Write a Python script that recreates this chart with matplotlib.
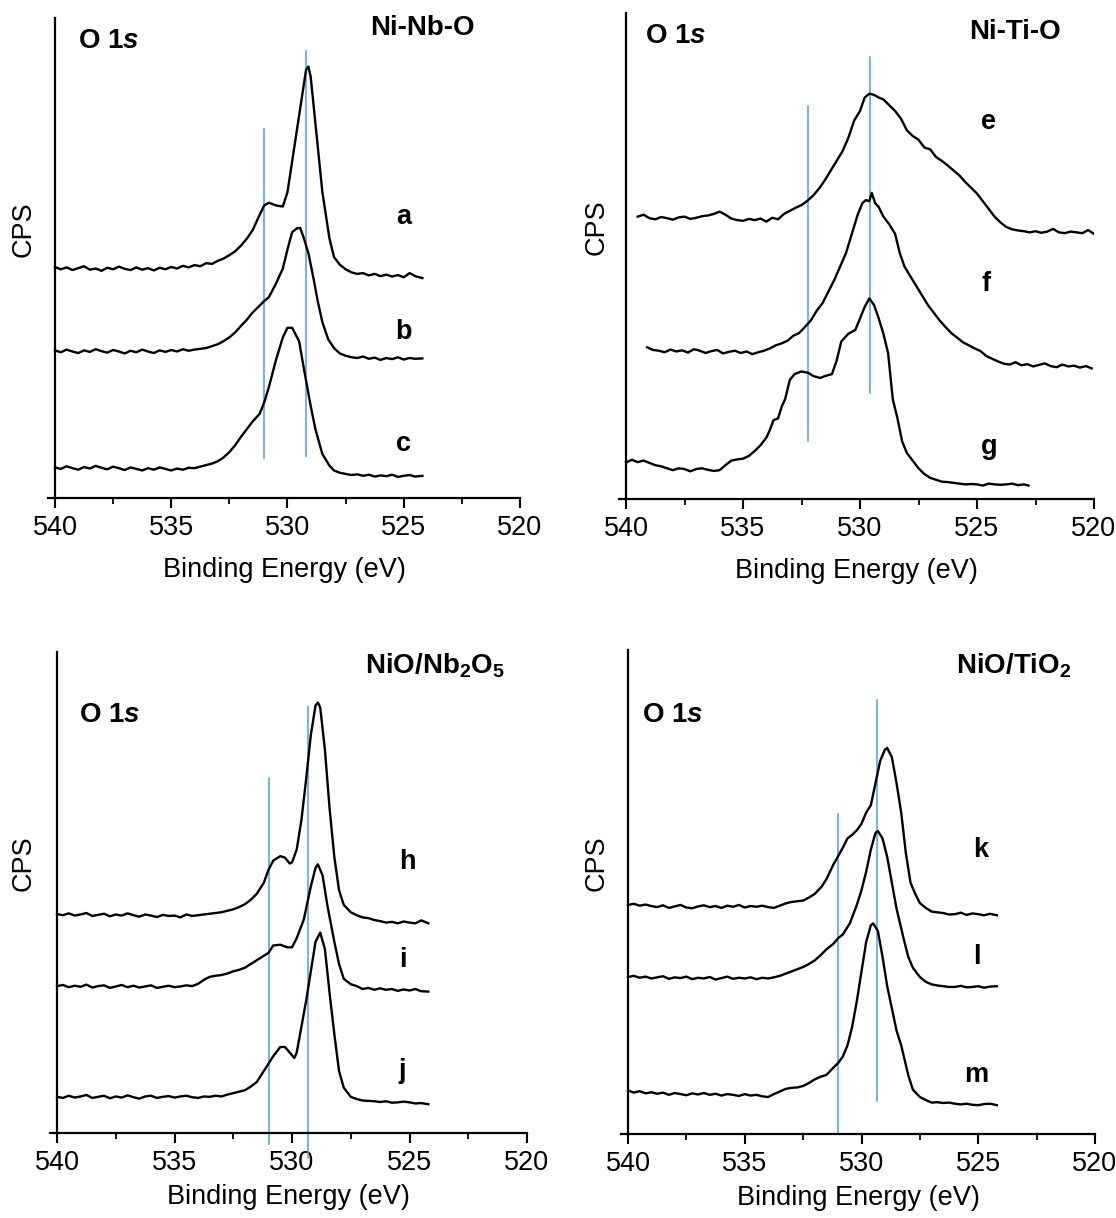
import matplotlib
matplotlib.use("Agg")
import matplotlib.pyplot as plt
from matplotlib.ticker import MultipleLocator

plt.rcParams['font.family'] = ['Liberation Sans', 'DejaVu Sans']
plt.rcParams['mathtext.fontset'] = 'custom'
plt.rcParams['mathtext.rm'] = 'Liberation Sans'
plt.rcParams['mathtext.bf'] = 'Liberation Sans:bold'
plt.rcParams['mathtext.it'] = 'Liberation Sans:italic'
plt.rcParams['mathtext.bfit'] = 'Liberation Sans:bold:italic'

# O 1s spectra: binding energy (eV) vs counts (arb. units)
# common energy steps for the flat low-BE / high-BE stretches
be_lo = [540, 539.75, 539.5, 539.25, 539, 538.75, 538.5, 538.25, 538, 537.75, 537.5, 537.25, 537,
         536.75, 536.5, 536.25, 536, 535.75, 535.5, 535.25, 535, 534.75, 534.5, 534.25, 534]
be_hi = [527.5, 527.25, 527, 526.75, 526.5, 526.25, 526, 525.75, 525.5, 525.25, 525, 524.75, 524.5, 524.2]

# --- Ni-Nb-O ---
be_a = be_lo + [533.75, 533.5, 533.25, 533, 532.75, 532.5, 532.25, 532, 531.75, 531.5, 531.2, 531, 530.8,
                530.5, 530.2, 530, 529.8, 529.5, 529.2, 529.1, 529, 528.8, 528.5, 528.2, 528, 527.75] + be_hi
cps_a = [604, 598, 603, 596, 601, 606, 597, 600, 594, 602, 598, 605, 599, 596, 603, 597, 601, 595, 602, 598,
         604, 600, 607, 603, 609,
         606, 614, 612, 620, 626, 635, 645, 660, 678, 700, 740, 765, 772, 765, 762, 800, 880, 1000, 1120,
         1128, 1100, 980, 800, 680, 630, 610,
         598, 590, 586, 588, 582, 586, 580, 584, 579, 583, 577, 588, 580, 575]
be_b = be_lo + [533.75, 533.5, 533.25, 533, 532.75, 532.5, 532.25, 532, 531.75, 531.5, 531.25, 531, 530.8,
                530.5, 530.2, 530, 529.8, 529.6, 529.45, 529.3, 529.1, 528.9, 528.7, 528.5, 528.25, 528,
                527.75] + be_hi
cps_b = [386, 381, 388, 383, 379, 386, 382, 389, 384, 380, 387, 383, 378, 385, 381, 388, 383, 379, 386, 382,
         387, 383, 389, 385, 388,
         390, 392, 397, 402, 410, 420, 433, 450, 466, 485, 500, 515, 525, 560, 600, 650, 695, 705, 706, 680,
         640, 580, 515, 460, 415, 392, 378,
         372, 368, 366, 370, 364, 367, 361, 366, 363, 368, 362, 366, 364, 365]
be_c = be_lo + [533.75, 533.5, 533.25, 533, 532.75, 532.5, 532.25, 532, 531.75, 531.5, 531.2, 531, 530.8,
                530.5, 530.2, 530, 529.8, 529.5, 529.3, 529, 528.8, 528.5, 528.2, 528, 527.75] + be_hi
cps_c = [80, 76, 83, 78, 74, 81, 77, 84, 79, 75, 82, 78, 73, 80, 76, 72, 78, 74, 80, 76, 72, 77, 74, 79, 78,
         82, 86, 90, 96, 106, 120, 138, 160, 180, 200, 220, 250, 290, 360, 420, 445, 445, 410, 340, 240,
         180, 115, 85, 72, 66,
         63, 60, 62, 58, 61, 56, 59, 57, 61, 55, 58, 60, 56, 58]

# --- Ni-Ti-O ---
be_e = [539.5, 539.25, 539, 538.75, 538.5, 538.25, 538, 537.75, 537.5, 537.25, 537, 536.75, 536.5, 536.25,
        536, 535.75, 535.5, 535.25, 535, 534.75, 534.5, 534.25, 534,
        533.75, 533.5, 533.25, 533, 532.75, 532.5, 532.25, 532, 531.75, 531.5, 531.25, 531, 530.75, 530.5,
        530.25, 530.1, 530, 529.8, 529.6, 529.4, 529.2, 529, 528.75, 528.5, 528.25, 528, 527.75, 527.5,
        527.25, 527, 526.75, 526.5, 526.25, 526, 525.75, 525.5, 525.25, 525, 524.75, 524.5, 524.25, 524,
        523.75, 523.5, 523.25, 523,
        522.75, 522.5, 522.25, 522, 521.75, 521.5, 521.25, 521, 520.75, 520.5, 520.25, 520]
cps_e = [735, 740, 731, 728, 734, 731, 727, 733, 735, 729, 732, 736, 738, 742, 748, 740, 730, 726, 724, 729,
         726, 730, 722,
         732, 728, 742, 750, 758, 765, 776, 790, 808, 830, 855, 880, 905, 940, 985, 1000, 1010, 1045, 1055,
         1052, 1045, 1040, 1025, 1010, 990, 960, 945, 935, 915, 910, 890, 880, 868, 855, 842, 825, 810, 795,
         775, 755, 735, 720, 708, 702, 699, 697,
         694, 697, 693, 696, 703, 694, 692, 696, 694, 692, 700, 690]
be_f = [539.1, 538.85, 538.6, 538.35, 538.1, 537.85, 537.6, 537.35, 537.1, 536.85, 536.6, 536.35, 536.1,
        535.85, 535.6, 535.35, 535.1, 534.85, 534.6, 534.35, 534.1,
        533.85, 533.6, 533.35, 533.1, 532.85, 532.6, 532.35, 532.1, 531.85, 531.6, 531.35, 531.1, 530.85,
        530.6, 530.35, 530.1, 529.9, 529.75, 529.6, 529.5, 529.35, 529.2, 529, 528.75, 528.5, 528.3, 528.1,
        527.85, 527.6, 527.35, 527.1, 526.85, 526.6, 526.35, 526.1, 525.85, 525.6, 525.35, 525.1, 524.85,
        524.6, 524.35, 524.1,
        523.85, 523.6, 523.35, 523.1, 522.85, 522.6, 522.35, 522.1, 521.85, 521.6, 521.35, 521.1, 520.85,
        520.6, 520.35, 520.1]
cps_f = [395, 388, 386, 382, 389, 384, 387, 381, 390, 386, 380, 385, 388, 379, 383, 386, 380, 384, 377, 382,
         386,
         392, 400, 405, 412, 425, 432, 448, 465, 490, 510, 540, 570, 605, 640, 690, 740, 770, 778, 775, 797,
         770, 760, 735, 715, 690, 640, 605, 580, 555, 530, 505, 485, 465, 448, 432, 420, 408, 400, 392, 385,
         372, 365, 358,
         352, 350, 356, 348, 351, 345, 349, 353, 346, 343, 350, 345, 347, 342, 346, 340]
be_g = be_lo + [533.85, 533.7, 533.5, 533.35, 533.2, 533, 532.8, 532.5, 532.2, 532, 531.7, 531.5, 531.2,
                531, 530.8, 530.5, 530.2, 530, 529.8, 529.6, 529.4, 529.2, 529, 528.8, 528.6, 528.4, 528.2,
                528, 527.75, 527.5, 527.25, 527, 526.75, 526.5, 526.25, 526, 525.75, 525.5, 525.25, 525,
                524.75, 524.5, 524.25, 524, 523.75, 523.5, 523.25, 523, 522.8]
cps_g = [95, 102, 96, 100, 94, 88, 85, 80, 75, 80, 78, 72, 78, 80, 76, 73, 75, 88, 100, 103, 105, 112, 125,
         140, 160,
         180, 205, 210, 240, 260, 310, 325, 332, 328, 320, 315, 320, 325, 360, 410, 430, 440, 470, 500, 522,
         505, 470, 430, 380, 260, 210, 150, 120, 100, 80, 65, 55, 50, 45, 44, 42, 40, 38, 39, 38, 35, 40,
         38, 37, 38, 40, 36, 38, 35]

# --- NiO/Nb2O5 ---
be_h = be_lo + [533.75, 533.5, 533.25, 533, 532.75, 532.5, 532.25, 532, 531.75, 531.5, 531.2, 531, 530.8,
                530.5, 530.3, 530.1, 530, 529.8, 529.6, 529.4, 529.2, 529, 528.9, 528.8, 528.6, 528.4, 528.2,
                528, 527.8] + be_hi
cps_h = [593, 590, 595, 589, 592, 596, 588, 591, 594, 587, 592, 589, 595, 590, 586, 592, 589, 585, 591, 588,
         589, 584, 592, 588, 590,
         592, 594, 596, 598, 602, 606, 612, 620, 632, 648, 678, 713, 738, 750, 746, 730, 733, 768, 848, 958,
         1078, 1158, 1166, 1153, 1038, 878, 748, 658, 618,
         598, 590, 584, 582, 577, 574, 570, 572, 568, 573, 570, 568, 576, 568]
be_i = be_lo + [533.75, 533.5, 533.25, 533, 532.75, 532.5, 532.25, 532, 531.75, 531.5, 531.25, 531, 530.8,
                530.5, 530.2, 530, 529.8, 529.5, 529.2, 529, 528.9, 528.7, 528.5, 528.2, 528, 527.8] + be_hi
cps_i = [398, 401, 395, 399, 396, 402, 394, 398, 400, 393, 397, 401, 395, 399, 394, 397, 400, 393, 396, 399,
         395, 397, 400, 398, 404,
         415, 423, 426, 428, 432, 438, 442, 448, 458, 468, 478, 488, 508, 510, 503, 503, 528, 578, 668, 718,
         728, 698, 618, 518, 458, 418,
         403, 398, 390, 393, 388, 392, 388, 390, 385, 389, 386, 390, 384, 383]
be_j = be_lo + [533.75, 533.5, 533.25, 533, 532.75, 532.5, 532.25, 532, 531.75, 531.5, 531.2, 531, 530.8,
                530.5, 530.3, 530.1, 529.9, 529.8, 529.6, 529.4, 529.2, 529, 528.8, 528.6, 528.4, 528.2, 528,
                527.8] + be_hi
cps_j = [98, 95, 101, 96, 99, 103, 95, 98, 101, 94, 99, 96, 102, 97, 93, 99, 101, 95, 98, 100, 96, 99, 101,
         97, 95,
         99, 98, 101, 99, 104, 108, 112, 116, 126, 138, 168, 188, 208, 233, 233, 218, 203, 218, 288, 358,
         438, 518, 543, 498, 378, 268, 168, 123,
         98, 92, 88, 87, 86, 84, 86, 82, 83, 85, 83, 80, 81, 78]

# --- NiO/TiO2 ---
be_k = be_lo + [533.75, 533.5, 533.25, 533, 532.75, 532.5, 532.25, 532, 531.7, 531.5, 531.2, 531, 530.8,
                530.6, 530.4, 530.2, 530, 529.8, 529.6, 529.4, 529.2, 529, 528.9, 528.7, 528.5, 528.3, 528.1,
                527.9, 527.7] + be_hi
cps_k = [620, 623, 618, 621, 617, 614, 619, 612, 616, 620, 613, 611, 616, 619, 614, 617, 612, 618, 615, 620,
         613, 617, 615, 618, 614,
         612, 618, 624, 628, 630, 632, 640, 650, 670, 690, 730, 752, 775, 800, 810, 822, 840, 870, 890, 950,
         1010, 1040, 1045, 1020, 950, 870, 760, 680, 650,
         625, 612, 602, 600, 598, 594, 595, 599, 593, 597, 595, 592, 596, 592]
be_l = be_lo + [533.75, 533.5, 533.25, 533, 532.75, 532.5, 532.25, 532, 531.75, 531.5, 531.2, 531, 530.8,
                530.5, 530.2, 530, 529.8, 529.6, 529.4, 529.3, 529.1, 528.9, 528.7, 528.5, 528.2, 528,
                527.8] + be_hi
cps_l = [425, 428, 423, 426, 421, 424, 427, 420, 424, 422, 426, 419, 423, 421, 425, 418, 422, 426, 420, 423,
         421, 424, 419, 423, 421,
         424, 428, 434, 440, 446, 452, 460, 470, 484, 500, 515, 530, 540, 570, 620, 660, 710, 770, 815, 820,
         800, 750, 680, 610, 530, 480, 450,
         425, 412, 405, 402, 400, 398, 398, 401, 397, 398, 400, 396, 399, 400]
be_m = be_lo + [533.75, 533.5, 533.25, 533, 532.75, 532.5, 532.25, 532, 531.75, 531.5, 531.2, 531, 530.8,
                530.6, 530.4, 530.2, 530, 529.8, 529.6, 529.5, 529.3, 529.1, 528.9, 528.7, 528.5, 528.3, 528,
                527.8] + be_hi
cps_m = [118, 112, 116, 110, 113, 109, 112, 106, 111, 108, 105, 110, 107, 111, 106, 109, 104, 108, 106, 103,
         108, 104, 106, 102, 100,
         108, 115, 122, 125, 126, 130, 138, 148, 155, 160, 180, 192, 210, 240, 290, 360, 440, 520, 565, 570,
         550, 480, 400, 340, 280, 240, 160, 120,
         100, 92, 85, 86, 84, 85, 82, 80, 82, 79, 78, 81, 82, 78]

# reference positions (eV) and extent of the vertical marker lines
ref_nbo = [531.0, 529.2]
ref_nbo_y = [(105, 965), (110, 1170)]
ref_tio = [532.22, 529.56]
ref_tio_y = [(150, 1022), (275, 1150)]
ref_nio_nb = [531.0, 529.33]
ref_nio_nb_y = [(-30, 963), (-68, 1153)]
ref_nio_ti = [531.02, 529.34]
ref_nio_ti_y = [(0, 865), (90, 1175)]

titles = ['Ni-Nb-O', 'Ni-Ti-O', r'NiO/Nb$\mathbf{_2}$O$\mathbf{_5}$', r'NiO/TiO$\mathbf{_2}$']

W, H = 1116, 1218
fig = plt.figure(figsize=(W / 100, H / 100), dpi=100)


def make_axes(left, bottom, right, top):
    return fig.add_axes([left / W, 1 - bottom / H, (right - left) / W, (bottom - top) / H])


def draw_panel(ax, curves, letters, letter_pos, refs, refs_y, ymax, title, title_pos, o1s_pos, cps_xy,
               xlabel_pad):
    for be, cps in curves:
        ax.plot(be, cps, color='black', lw=1.7, zorder=3)
    for x0, (y0, y1) in zip(refs, refs_y):
        ax.plot([x0, x0], [y0, y1], color='#4f9fe0', lw=1.1, zorder=2, clip_on=False)
    for lab, (tx, ty) in zip(letters, letter_pos):
        ax.text(tx, ty, lab, fontsize=19.5, fontweight='bold', ha='center', va='center')
    ax.text(title_pos[0], title_pos[1], title, fontsize=20, fontweight='bold', ha='center', va='center')
    ax.text(o1s_pos[0], o1s_pos[1], r'$\mathbf{O\ 1}\mathbfit{s}$', fontsize=20, ha='left', va='center')

    ax.set_xlim(540.3, 520)
    ax.set_ylim(0, ymax)
    ax.spines['top'].set_visible(False)
    ax.spines['right'].set_visible(False)
    ax.spines['left'].set_position(('data', 540))
    ax.spines['left'].set_linewidth(1.6)
    ax.spines['bottom'].set_linewidth(1.6)
    ax.set_yticks([])
    ax.xaxis.set_major_locator(MultipleLocator(5))
    ax.xaxis.set_minor_locator(MultipleLocator(2.5))
    ax.tick_params(axis='x', which='major', direction='out', length=7, width=1.5, labelsize=19.5, pad=5)
    ax.tick_params(axis='x', which='minor', direction='out', length=4, width=1.3)
    ax.set_xlabel('Binding Energy (eV)', fontsize=19.5, labelpad=xlabel_pad)
    ax.set_ylabel('CPS', fontsize=19.5)
    ax.yaxis.set_label_coords(*cps_xy)
    ax.patch.set_visible(False)


ax1 = make_axes(48, 498, 520, 18)
draw_panel(ax1, [(be_a, cps_a), (be_b, cps_b), (be_c, cps_c)], ['a', 'b', 'c'],
           [(525, 735), (525, 435), (525, 140)], ref_nbo, ref_nbo_y, 1255,
           titles[0], (524.2, 1228), (539.0, 1195), (-0.025, 0.56), 12)

ax2 = make_axes(619, 499, 1094, 13)
draw_panel(ax2, [(be_e, cps_e), (be_f, cps_f), (be_g, cps_g)], ['e', 'f', 'g'],
           [(524.5, 980), (524.6, 560), (524.5, 135)], ref_tio, ref_tio_y, 1265,
           titles[1], (523.4, 1215), (539.2, 1205), (-0.019, 0.56), 12)

ax3 = make_axes(50, 1133, 527, 652)
draw_panel(ax3, [(be_h, cps_h), (be_i, cps_i), (be_j, cps_j)], ['h', 'i', 'j'],
           [(525.1, 733), (525.3, 468), (525.3, 168)], ref_nio_nb, ref_nio_nb_y, 1303,
           titles[2], (523.9, 1265), (539.06, 1133), (-0.029, 0.56), 6)

ax4 = make_axes(621, 1134, 1095, 650)
draw_panel(ax4, [(be_k, cps_k), (be_l, cps_l), (be_m, cps_m)], ['k', 'l', 'm'],
           [(524.9, 770), (525.05, 480), (525.1, 160)], ref_nio_ti, ref_nio_ti_y, 1310,
           titles[3], (523.46, 1268), (539.4, 1135), (-0.025, 0.56), 6)

fig.savefig('out.png', dpi=100)
